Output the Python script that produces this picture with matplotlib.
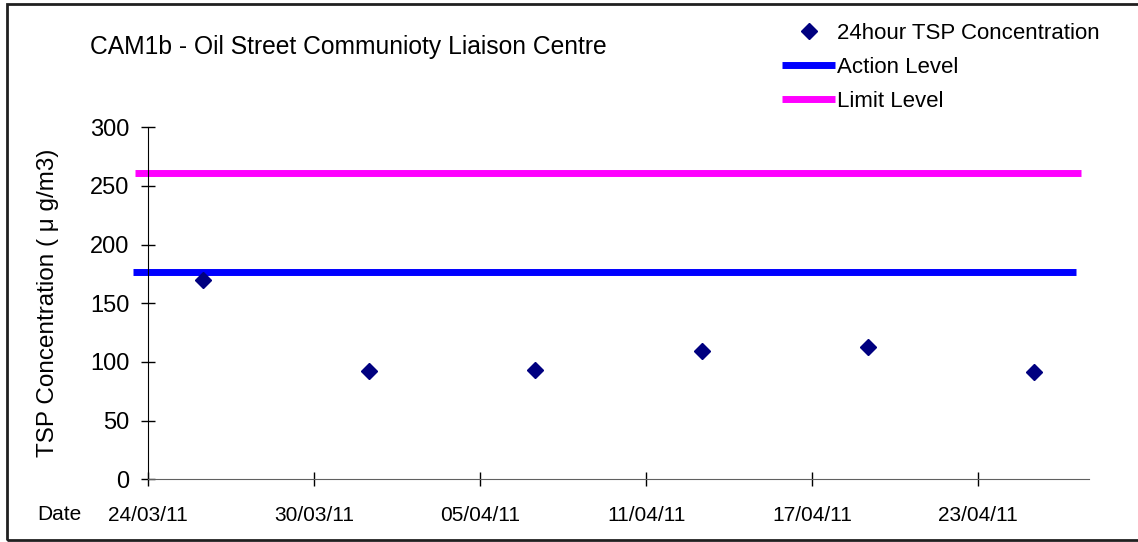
import datetime as dt
import matplotlib
matplotlib.use("Agg")
import matplotlib.pyplot as plt
import matplotlib.dates as mdates
from matplotlib.patches import Rectangle

plt.rcParams['font.family'] = ['Liberation Sans', 'DejaVu Sans']

# data
dates = [dt.datetime(2011, 3, 26), dt.datetime(2011, 4, 1), dt.datetime(2011, 4, 7),
         dt.datetime(2011, 4, 13), dt.datetime(2011, 4, 19), dt.datetime(2011, 4, 25)]
tsp = [170, 92, 93, 109, 113, 91]

action_level = 177
limit_level = 261
action_span = [dt.datetime(2011, 3, 23, 11), dt.datetime(2011, 4, 26, 13)]
limit_span = [dt.datetime(2011, 3, 23, 13), dt.datetime(2011, 4, 26, 17)]

x_start = dt.datetime(2011, 3, 24)
x_end = dt.datetime(2011, 4, 27)
tick_dates = [dt.datetime(2011, 3, 24), dt.datetime(2011, 3, 30), dt.datetime(2011, 4, 5),
              dt.datetime(2011, 4, 11), dt.datetime(2011, 4, 17), dt.datetime(2011, 4, 23)]
y_ticks = [0, 50, 100, 150, 200, 250, 300]

title = "CAM1b - Oil Street Communioty Liaison Centre"

fig = plt.figure(figsize=(11.38, 5.42), dpi=100)
ax = fig.add_axes([0.130, 0.116, 0.827, 0.649])

ax.plot(action_span, [action_level, action_level], color='#0000ff', lw=5,
        solid_capstyle='butt', clip_on=False, label='Action Level', zorder=2)
ax.plot(limit_span, [limit_level, limit_level], color='#ff00ff', lw=5,
        solid_capstyle='butt', clip_on=False, label='Limit Level', zorder=2)
ax.plot(dates, tsp, linestyle='none', marker='D', ms=8, color='#000080',
        label='24hour TSP Concentration', zorder=3)

ax.set_xlim(x_start, x_end)
ax.set_ylim(0, 300)
ax.set_xticks(tick_dates)
ax.xaxis.set_major_formatter(mdates.DateFormatter('%d/%m/%y'))
ax.set_yticks(y_ticks)

for s in ['top', 'right']:
    ax.spines[s].set_visible(False)
ax.spines['bottom'].set_color('#606060')
ax.spines['left'].set_color('black')
ax.tick_params(axis='both', direction='inout', length=10, width=1, labelsize=15)
ax.tick_params(axis='x', pad=14)
ax.tick_params(axis='y', pad=8.5, labelsize=17)

ax.set_ylabel('TSP Concentration ( μ g/m3)', fontsize=17.5, labelpad=22)

fig.text(90 / 1138, 1 - 47 / 542, title, fontsize=17.7, va='center', ha='left')
fig.text(37 / 1138, 1 - 514 / 542, 'Date', fontsize=15, va='center', ha='left')

handles, labels = ax.get_legend_handles_labels()
order = [2, 0, 1]
leg = fig.legend([handles[i] for i in order], [labels[i] for i in order],
                 loc='upper left', bbox_to_anchor=(771 / 1138, 1 - 12 / 542),
                 frameon=False, fontsize=16, handlelength=2.4, handletextpad=0.05,
                 labelspacing=0.58, borderpad=0)

fig.patches.append(Rectangle((7 / 1138, 0.003), 1.0, 0.99, transform=fig.transFigure,
                             fill=False, edgecolor='#202020', lw=2))

fig.savefig('out.png', dpi=100)
